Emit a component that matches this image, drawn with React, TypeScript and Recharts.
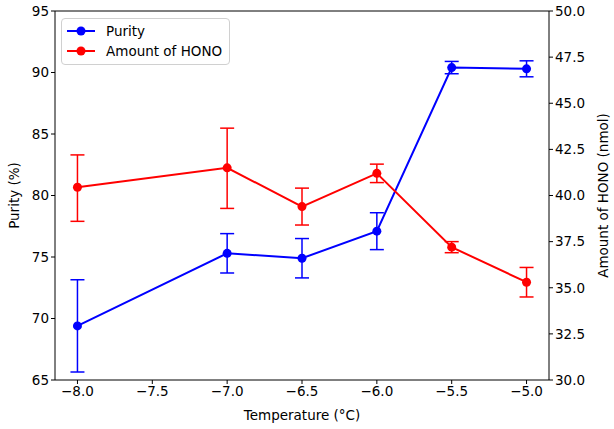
import React from 'react';
import { LineChart, Line, XAxis, YAxis, ErrorBar, ReferenceLine } from 'recharts';

// values
const temperatures = [-8.0, -7.0, -6.5, -6.0, -5.5, -5.0];
const purity = [69.4, 75.3, 74.9, 77.1, 90.4, 90.3];
const purityErrLow = [3.75, 1.6, 1.6, 1.5, 0.5, 0.65];
const purityErrHigh = [3.75, 1.6, 1.6, 1.5, 0.5, 0.65];
const hono = [40.45, 41.5, 39.4, 41.2, 37.2, 35.3];
const honoErrLow = [1.85, 2.2, 1.0, 0.5, 0.3, 0.8];
const honoErrHigh = [1.75, 2.15, 1.0, 0.5, 0.3, 0.8];

const xTicks = [-8.0, -7.5, -7.0, -6.5, -6.0, -5.5, -5.0];
const leftTicks = [65, 70, 75, 80, 85, 90, 95];
const rightTicks = [30, 32.5, 35, 37.5, 40, 42.5, 45, 47.5, 50];

const data = temperatures.map((t, i) => ({
  t,
  purity: purity[i],
  purityErr: [purityErrLow[i], purityErrHigh[i]],
  hono: hono[i],
  honoErr: [honoErrLow[i], honoErrHigh[i]],
}));

const FONT = 'DejaVu Sans, sans-serif';
const FS = 13.5;
const tickStyle = { fill: '#000', fontSize: FS, fontFamily: FONT };
const minus = (v: number) => v.toFixed(1).replace('-', '\u2212');

const LegendBox = () => (
  <div
    style={{
      position: 'absolute',
      left: 61,
      top: 18,
      width: 169,
      boxSizing: 'border-box',
      border: '1px solid #d0d0d0',
      borderRadius: 4,
      background: 'rgba(255,255,255,0.8)',
      padding: '2px 0 3px 5px',
      fontFamily: FONT,
      fontSize: FS,
      color: '#000',
      lineHeight: '20px',
    }}
  >
    {[
      { name: 'Purity', color: 'blue' },
      { name: 'Amount of HONO', color: 'red' },
    ].map((it) => (
      <div key={it.name} style={{ display: 'flex', alignItems: 'center' }}>
        <svg width={39} height={12}>
          <line x1={0} y1={6} x2={28} y2={6} stroke={it.color} strokeWidth={2} />
          <circle cx={14} cy={6} r={4.5} fill={it.color} />
        </svg>
        <span>{it.name}</span>
      </div>
    ))}
  </div>
);

const VLabel = (cx: number, text: string) => (props: any) => {
  const vb = props.viewBox || {};
  const cy = (vb.y ?? 11) + (vb.height ?? 369) / 2;
  return (
    <text
      x={cx}
      y={cy}
      transform={`rotate(-90, ${cx}, ${cy})`}
      textAnchor="middle"
      dominantBaseline="central"
      fill="#000"
      fontSize={FS}
      fontFamily={FONT}
    >
      {text}
    </text>
  );
};

const App = () => {
  return (
    <div style={{ position: 'absolute', left: 0, top: 0, background: '#fff' }}>
      <LineChart width={614} height={429} data={data} margin={{ top: 11, right: 0, bottom: 0, left: 0 }}>
        <XAxis
          dataKey="t"
          type="number"
          domain={[-8.15, -4.85]}
          allowDataOverflow
          ticks={xTicks}
          tickFormatter={minus}
          tick={tickStyle}
          tickSize={4}
          height={49}
          stroke="#000"
          label={{ value: 'Temperature (°C)', position: 'insideBottom', offset: 9, style: { fill: '#000', fontSize: FS, fontFamily: FONT } }}
        />
        <YAxis
          yAxisId="left"
          domain={[65, 95]}
          ticks={leftTicks}
          tick={tickStyle}
          tickSize={4}
          width={55}
          stroke="#000"
          label={{ content: VLabel(14, 'Purity (%)') }}
        />
        <YAxis
          yAxisId="right"
          orientation="right"
          domain={[30, 50]}
          ticks={rightTicks}
          tickFormatter={(v: number) => v.toFixed(1)}
          tick={tickStyle}
          tickSize={4}
          width={65}
          stroke="#000"
          label={{ content: VLabel(603, 'Amount of HONO (nmol)') }}
        />
        <ReferenceLine yAxisId="left" y={95} stroke="#000" />
        <Line
          yAxisId="left"
          dataKey="purity"
          stroke="blue"
          strokeWidth={2}
          dot={{ r: 4.5, fill: 'blue', stroke: 'blue', strokeWidth: 0 }}
          isAnimationActive={false}
        >
          <ErrorBar dataKey="purityErr" width={7} stroke="blue" strokeWidth={1.5} direction="y" />
        </Line>
        <Line
          yAxisId="right"
          dataKey="hono"
          stroke="red"
          strokeWidth={2}
          dot={{ r: 4.5, fill: 'red', stroke: 'red', strokeWidth: 0 }}
          isAnimationActive={false}
        >
          <ErrorBar dataKey="honoErr" width={7} stroke="red" strokeWidth={1.5} direction="y" />
        </Line>
      </LineChart>
      <LegendBox />
    </div>
  );
};

export default App;
